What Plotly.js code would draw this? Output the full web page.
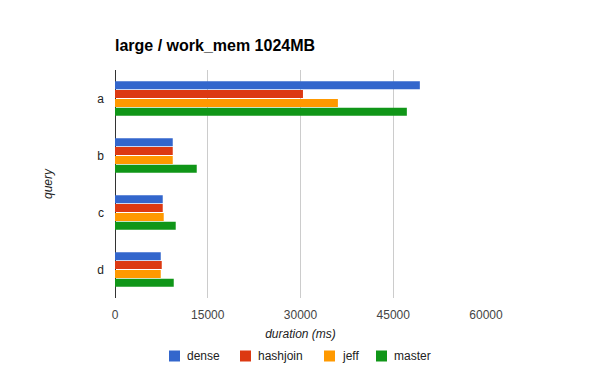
<!DOCTYPE html>
<html>
<head>
<meta charset="utf-8">
<script src="https://cdn.plot.ly/plotly-3.0.1.min.js"></script>
<style>html,body{margin:0;padding:0;background:#fff;}#chart{width:600px;height:371px;}</style>
</head>
<body>
<div id="chart"></div>
<script>
const categories = ["a", "b", "c", "d"];
const seriesNames = ["dense", "hashjoin", "jeff", "master"];
const dense = [49300, 9340, 7720, 7400];
const hashjoin = [30400, 9340, 7720, 7560];
const jeff = [36050, 9340, 7880, 7400];
const master = [47200, 13220, 9820, 9500];
const xTicks = [0, 15000, 30000, 45000, 60000];
const colors = ["#3366cc", "#dc3912", "#ff9900", "#109618"];

const values = [dense, hashjoin, jeff, master];
const traces = values.map((v, i) => ({
  type: "bar",
  orientation: "h",
  name: seriesNames[i],
  y: categories,
  x: v,
  marker: {color: colors[i]},
  hoverinfo: "none",
  showlegend: false
}));

// custom legend (Google-Charts style: small square, text close to it)
const W = 600, H = 371, ML = 115, MR = 114, MT = 70, MB = 73;
const PW = W - ML - MR, PH = H - MT - MB;
const px = x => (x - ML) / PW;
const py = y => 1 - (y - MT) / PH;
const legendX = [169, 240, 324, 376];
const legendY = 356;
const shapes = [];
const annotations = [{
  text: "<i>query</i>",
  textangle: -90,
  xref: "paper", yref: "paper",
  x: px(48), y: 0.5,
  xanchor: "center", yanchor: "middle",
  showarrow: false,
  font: {size: 12, color: "#222"}
}];
seriesNames.forEach((n, i) => {
  shapes.push({
    type: "rect", xref: "paper", yref: "paper",
    x0: px(legendX[i]), x1: px(legendX[i] + 11),
    y0: py(legendY - 5.5), y1: py(legendY + 5.5),
    fillcolor: colors[i], line: {width: 0}
  });
  annotations.push({
    text: n, xref: "paper", yref: "paper",
    x: px(legendX[i] + 16), y: py(legendY),
    xanchor: "left", yanchor: "middle", showarrow: false,
    font: {size: 12, color: "#222"}
  });
});

const layout = {
  width: W,
  height: H,
  margin: {l: ML, r: MR, t: MT, b: MB},
  paper_bgcolor: "#fff",
  plot_bgcolor: "#fff",
  font: {family: "Arial, 'Liberation Sans', sans-serif", size: 12, color: "#222"},
  title: {
    text: "<b>large / work_mem 1024MB</b>",
    x: 115 / 600, xanchor: "left", xref: "container",
    y: 1 - 45 / 371, yanchor: "middle", yref: "container",
    font: {size: 16, color: "#000"}
  },
  barmode: "group",
  bargap: 0.38,
  bargroupgap: 0.1,
  xaxis: {
    range: [0, 60000],
    tickvals: xTicks,
    ticktext: xTicks.map(String),
    showgrid: true,
    gridcolor: "#cccccc",
    gridwidth: 1,
    zeroline: true,
    zerolinecolor: "#333333",
    zerolinewidth: 1,
    showline: false,
    ticks: "",
    tickfont: {size: 12, color: "#444"},
    ticklabelstandoff: 8,
    title: {text: "<i>duration (ms)</i>", font: {size: 12, color: "#222"}, standoff: 8},
    fixedrange: true
  },
  yaxis: {
    autorange: "reversed",
    ticks: "",
    showgrid: false,
    showline: false,
    tickfont: {size: 12, color: "#222"},
    ticklabelstandoff: 10,
    fixedrange: true
  },
  shapes: shapes,
  annotations: annotations,
  showlegend: false
};

Plotly.newPlot("chart", traces, layout, {displayModeBar: false, staticPlot: true});
</script>
</body>
</html>
